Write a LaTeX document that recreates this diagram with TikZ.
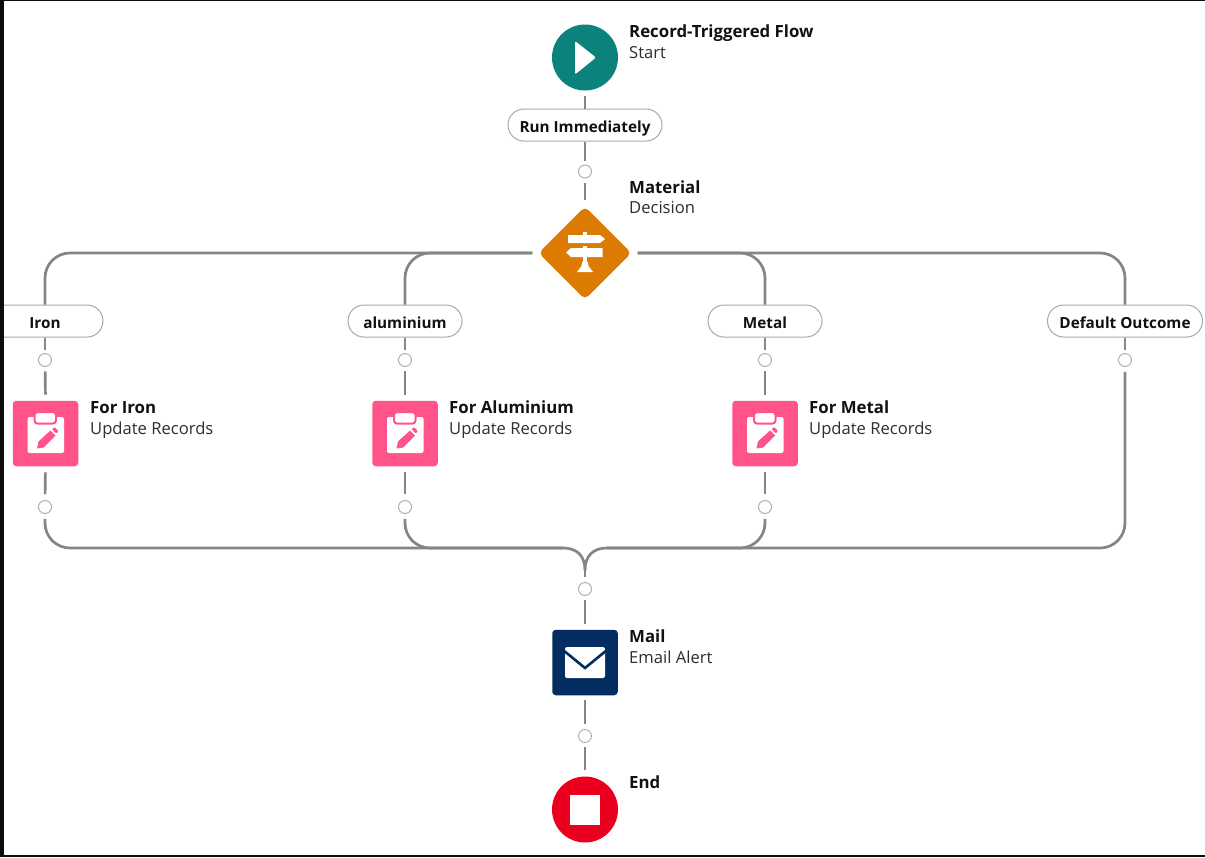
\documentclass[tikz,border=0pt]{standalone}
\usepackage{fontspec}
\setmainfont{Open Sans}
\usetikzlibrary{shapes.geometric,calc}
\definecolor{teal1}{HTML}{0B827C}
\definecolor{orange1}{HTML}{DD7A01}
\definecolor{pink1}{HTML}{FF538A}
\definecolor{navy1}{HTML}{032D60}
\definecolor{red1}{HTML}{EA001E}
\definecolor{wire}{HTML}{858585}
\definecolor{ringc}{HTML}{A8A8A8}
\definecolor{ink}{HTML}{111111}
\definecolor{subink}{HTML}{2E2E2E}
\tikzset{
  x=1pt,y=-1pt,
  conn/.style={draw=wire,line width=2.7pt},
  ring/.style={circle,draw=ringc,line width=0.9pt,fill=white,minimum size=13pt,inner sep=0pt},
  pill/.style={rectangle,rounded corners=16pt,draw=ringc,line width=1pt,fill=white,minimum height=32pt,inner sep=0pt,
    text height=14pt,text depth=0pt,font=\fontsize{15.3}{15.3}\selectfont\bfseries,text=ink},
  roundicon/.style={circle,minimum size=66pt,inner sep=0pt},
  squareicon/.style={rectangle,rounded corners=3.5pt,minimum size=65.5pt,inner sep=0pt},
  decisionicon/.style={diamond,rounded corners=5pt,fill=orange1,minimum width=93pt,minimum height=93pt,inner sep=0pt},
  titlelabel/.style={anchor=base west,inner sep=0pt,font=\fontsize{16.8}{16.8}\selectfont\bfseries,text=ink},
  sublabel/.style={anchor=base west,inner sep=0pt,font=\fontsize{16.6}{16.6}\selectfont,text=subink},
  clipicon/.pic={
    \fill[white,rounded corners=2pt] (-18,-16.5) rectangle (18.5,19.5);
    \fill[white,rounded corners=3pt,draw=pink1,line width=2pt] (-11,-21.5) rectangle (10.5,-10);
    \fill[pink1] (-8.5,15) -- (-7,8) -- (5,-3) -- (10,2) -- (-2,14) -- cycle;
    \fill[pink1,rounded corners=1pt] (6.5,-4.5) -- (9,-6.5) -- (13,-2.5) -- (11,0) -- cycle;
  }
}
\begin{document}
\begin{tikzpicture}
\useasboundingbox (0,0) rectangle (1205,857);
\fill[white] (0,0) rectangle (1205,857);

% nodes
\node[roundicon,fill=teal1] (start) at (585,57.5) {};
\node[pill,minimum width=154pt] (run) at (585,125) {Run Immediately};
\node[ring] (h1) at (585,171.5) {};
\node[decisionicon] (dec) at (585,253) {};

\node[pill,minimum width=116pt] (piron) at (45,321) {Iron};
\node[pill,minimum width=114pt] (palu) at (405,321) {aluminium};
\node[pill,minimum width=114pt] (pmet) at (765,321) {Metal};
\node[pill,minimum width=155pt] (pdef) at (1125,321) {Default Outcome};

\node[ring] (h2) at (45,360) {};
\node[ring] (h3) at (405,360) {};
\node[ring] (h4) at (765,360) {};
\node[ring] (h5) at (1125,360) {};

\node[squareicon,fill=pink1] (uiron) at (45.5,433.5) {};
\node[squareicon,fill=pink1] (ualu) at (405,433.5) {};
\node[squareicon,fill=pink1] (umet) at (765,433.5) {};

\node[ring] (h6) at (45,507) {};
\node[ring] (h7) at (405,507) {};
\node[ring] (h8) at (765,507) {};

\node[ring] (h9) at (585,589) {};
\node[squareicon,fill=navy1] (mail) at (585,662.5) {};
\node[ring] (h10) at (585,736) {};
\node[roundicon,fill=red1] (endn) at (585,809.5) {};

% merge points
\coordinate (joinL) at (563,548);
\coordinate (joinR) at (607,548);
\coordinate (joinC) at (585,570);

% connectors
\draw[conn,shorten <=5.5pt] (start) -- (run);
\draw[conn,shorten >=4pt] (run) -- (h1);
\draw[conn,shorten <=4.5pt,shorten >=6.5pt] (h1) -- (dec.north);

\draw[conn,rounded corners=25pt,shorten <=6pt] (dec.west) -| (piron.north);
\draw[conn,rounded corners=25pt,shorten <=6pt] (dec.west) -| (palu.north);
\draw[conn,rounded corners=25pt,shorten <=6pt] (dec.east) -| (pmet.north);
\draw[conn,rounded corners=25pt,shorten <=6pt] (dec.east) -| (pdef.north);

\foreach \p/\h/\u/\b in {piron/h2/uiron/h6,palu/h3/ualu/h7,pmet/h4/umet/h8}{
  \draw[conn,shorten >=3.5pt] (\p) -- (\h);
  \draw[conn,shorten <=4.5pt,shorten >=6pt] (\h) -- (\u.north);
  \draw[conn,shorten <=6pt,shorten >=6pt] (\u.south) -- (\b.north);
}
\draw[conn,shorten >=3.5pt] (pdef) -- (h5);

\draw[conn,rounded corners=25pt,shorten <=5pt] (h6.south) |- (joinL);
\draw[conn,rounded corners=25pt,shorten <=5pt] (h7.south) |- (joinL);
\draw[conn,rounded corners=25pt,shorten <=5pt] (h8.south) |- (joinR);
\draw[conn,rounded corners=25pt,shorten <=5pt] (h5.south) |- (joinR);
\draw[conn] (joinL) .. controls (577,548) and (585,556) .. (joinC);
\draw[conn] (joinR) .. controls (593,548) and (585,556) .. (joinC);
\draw[conn,shorten >=5pt] (joinC) -- (h9.north);

\draw[conn,shorten <=4.5pt,shorten >=6pt] (h9.south) -- (mail.north);
\draw[conn,shorten <=5pt,shorten >=5pt] (mail.south) -- (h10.north);
\draw[conn,shorten <=4.5pt,shorten >=6pt] (h10.south) -- (endn.north);

% icons
\fill[white,rounded corners=2pt] (575,41) -- (596,57.5) -- (575,74.5) -- cycle;

\begin{scope}[shift={(585,253)}]
  \fill[white] (-2,-21) rectangle (2,-17);
  \fill[white] (-17,-18) -- (15,-18) -- (20,-14) -- (15,-10) -- (-17,-10) -- cycle;
  \fill[white] (-2,-7) rectangle (2,-3);
  \fill[white] (17.5,-5) -- (-14,-5) -- (-19,-0.5) -- (-14,4) -- (17.5,4) -- cycle;
  \fill[white] (-2,4) rectangle (2,11);
  \fill[white] (-3,9) -- (3,9) -- (3.5,13) -- (8,19) -- (-8,19) -- (-3.5,13) -- cycle;
\end{scope}

\pic at (45.5,433.5) {clipicon};
\pic at (405,433.5) {clipicon};
\pic at (765,433.5) {clipicon};

\fill[white,rounded corners=2pt] (565,647) rectangle (605,678);
\draw[navy1,line width=2.6pt] (563,650) -- (585,668) -- (607,650);

\fill[white] (570,795) rectangle (600,825);

% labels
\node[titlelabel] (t1) at (629,37) {Record-Triggered Flow};
\node[sublabel] (s1) at (629,58) {Start};
\node[titlelabel] (t2) at (629,193) {Material};
\node[sublabel] (s2) at (629,213) {Decision};
\node[titlelabel] (t3) at (90,413) {For Iron};
\node[sublabel] (s3) at (90,434) {Update Records};
\node[titlelabel] (t4) at (449,413) {For Aluminium};
\node[sublabel] (s4) at (449,434) {Update Records};
\node[titlelabel] (t5) at (809,413) {For Metal};
\node[sublabel] (s5) at (809,434) {Update Records};
\node[titlelabel] (t6) at (629,642) {Mail};
\node[sublabel] (s6) at (629,663) {Email Alert};
\node[titlelabel] (t7) at (629,788) {End};

% window edges
\fill[black!95] (0,0) rectangle (4,857);
\fill[black!95] (0,0) rectangle (1205,1);
\fill[black!95] (0,855) rectangle (1205,857);
\end{tikzpicture}
\end{document}
